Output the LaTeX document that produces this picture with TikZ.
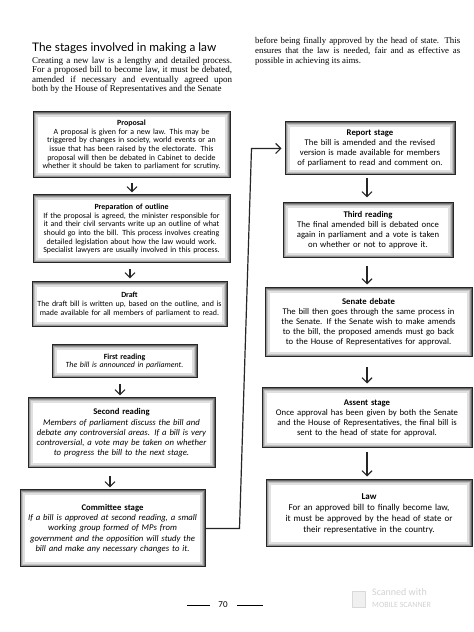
\documentclass[tikz,border=0pt]{standalone}
\usepackage{fontspec}
\setmainfont{Carlito}
\newfontfamily\serifpara{Liberation Serif}
\newfontfamily\titlefont{Lato}
\usetikzlibrary{arrows.meta}
\begin{document}
\begin{tikzpicture}[x=1pt,y=1pt,
  stage/.style={rectangle, draw=black!85, line width=1pt, fill=white, inner sep=0pt, align=center,
    path picture={
      \foreach \w/\c in {10/12,6.5/24,4/40,2/60}{
        \draw[black!\c,line width=\w pt] (path picture bounding box.south west) rectangle (path picture bounding box.north east);}
    }},
  txtsmall/.style={font=\fontsize{7.9}{8.7}\selectfont},
  txtmid/.style={font=\fontsize{8.7}{10.2}\selectfont},
  txtbig/.style={font=\fontsize{8.7}{10}\selectfont},
  arr/.style={-{Straight Barb[length=5pt,width=10pt]}, line width=1.15pt, black!85},
  conn/.style={-{Straight Barb[length=5pt,width=10pt]}, line width=1.2pt, black!85},
  wmark/.style={gray!35}
]
\useasboundingbox (0,0) rectangle (474,632);
\fill[white] (0,0) rectangle (474,632);

% heading texts
\node[anchor=west, inner sep=0pt, font=\titlefont\fontsize{11.8}{13}\selectfont] (title) at (32,584) {The stages involved in making a law};
\node[anchor=north west, inner sep=0pt, text width=200pt, align=justify, font=\serifpara\fontsize{9}{9.4}\selectfont] (intro) at (32,575)
 {\parfillskip=0pt Creating a new law is a lengthy and detailed process.\linebreak
 For a proposed bill to become law, it must be debated,\linebreak
 amended if necessary and eventually agreed upon\linebreak
 both by the House of Representatives and the Senate};
\node[anchor=north west, inner sep=0pt, text width=205pt, align=justify, font=\serifpara\fontsize{8.8}{10}\selectfont] (intro2) at (255,595)
 {before being finally approved by the head of state. This\linebreak
 ensures that the law is needed, fair and as effective as\linebreak
 possible in achieving its aims.};

% left column
\node[stage, txtsmall, text width=197pt, minimum height=66pt] (proposal) at (131.5,487)
 {{\bfseries Proposal}\\
 A proposal is given for a new law. This may be\\
 triggered by changes in society, world events or an\\
 issue that has been raised by the electorate. This\\
 proposal will then be debated in Cabinet to decide\\
 whether it should be taken to parliament for scrutiny.};
\node[stage, txtsmall, text width=197pt, minimum height=68pt] (prep) at (131.5,403)
 {{\bfseries Preparation of outline}\\
 If the proposal is agreed, the minister responsible for\\
 it and their civil servants write up an outline of what\\
 should go into the bill. This process involves creating\\
 detailed legislation about how the law would work.\\
 Specialist lawyers are usually involved in this process.};
\node[stage, txtsmall, text width=195pt, minimum height=45pt] (draft) at (129.5,327.5)
 {{\bfseries Draft}\\
 The draft bill is written up, based on the outline, and is\\
 made available for all members of parliament to read.};
\node[stage, txtsmall, text width=145pt, minimum height=33pt] (first) at (124.5,270.5)
 {{\bfseries First reading}\\
 \itshape The bill is announced in parliament.};
\node[stage, txtmid, text width=187pt, minimum height=70pt] (second) at (121.5,199)
 {{\bfseries Second reading}\\
 \itshape Members of parliament discuss the bill and\\
 \itshape debate any controversial areas. If a bill is very\\
 \itshape controversial, a vote may be taken on whether\\
 \itshape to progress the bill to the next stage.};
\node[stage, txtmid, text width=185pt, minimum height=77pt] (committee) at (112.5,103.5)
 {{\bfseries Committee stage}\\
 \itshape If a bill is approved at second reading, a small\\
 \itshape working group formed of MPs from\\
 \itshape government and the opposition will study the\\
 \itshape bill and make any necessary changes to it.};

% right column
\node[stage, txtbig, text width=170pt, minimum height=53pt] (report) at (370,483.5)
 {{\bfseries Report stage}\\
 The bill is amended and the revised\\
 version is made available for members\\
 of parliament to read and comment on.};
\node[stage, txtbig, text width=170pt, minimum height=55pt] (third) at (368,401.5)
 {{\bfseries Third reading}\\
 The final amended bill is debated once\\
 again in parliament and a vote is taken\\
 on whether or not to approve it.};
\node[stage, txtbig, text width=207pt, minimum height=69pt] (senate) at (368.5,309.5)
 {{\bfseries Senate debate}\\
 The bill then goes through the same process in\\
 the Senate. If the Senate wish to make amends\\
 to the bill, the proposed amends must go back\\
 to the House of Representatives for approval.};
\node[stage, txtbig, text width=210pt, minimum height=60pt] (assent) at (367,214)
 {{\bfseries Assent stage}\\
 Once approval has been given by both the Senate\\
 and the House of Representatives, the final bill is\\
 sent to the head of state for approval.};
\node[stage, font=\fontsize{9}{11}\selectfont, text width=206pt, minimum height=67pt] (law) at (369,118.5)
 {{\bfseries Law}\\
 For an approved bill to finally become law,\\
 it must be approved by the head of state or\\
 their representative in the country.};

% arrows, left
\draw[arr, shorten <=5pt, shorten >=2pt] ([xshift=0.5pt]proposal.south) -- ([xshift=0.5pt]prep.north);
\draw[arr, shorten <=6pt, shorten >=3pt] ([xshift=-1.5pt]prep.south) -- ([xshift=0.5pt]draft.north);
\draw[arr, shorten <=6pt, shorten >=2pt] ([xshift=-4.5pt]first.south) -- ([xshift=-1.5pt]second.north);
\draw[arr, shorten <=8pt, shorten >=2pt] ([xshift=-11.5pt]second.south) -- ([xshift=-2.5pt]committee.north);
% arrows, right
\draw[arr, shorten <=3pt, shorten >=5pt] ([xshift=-3pt]report.south) -- ([xshift=-1pt]third.north);
\draw[arr, shorten <=8pt, shorten >=3pt] ([xshift=-1pt]third.south) -- ([xshift=-1.5pt]senate.north);
\draw[arr, shorten <=10pt, shorten >=4pt] ([xshift=-1.5pt]senate.south) -- (assent.north);
\draw[arr, shorten <=4pt, shorten >=3pt] (assent.south) -- ([xshift=-2pt]law.north);

% long connector
\path (committee.east) -- ++(34,0) coordinate (cb);
\path (report.west) -- ++(-33,0) coordinate (ct);
\draw[conn, line join=miter, shorten >=3pt] (committee.east) -- (cb) -- (ct) -- (report.west);

% page number
\node[font=\fontsize{9}{10}\selectfont] (pnum) at (223,27) {70};
\draw[line width=0.6pt] (187,27) -- (210,27);
\draw[line width=0.6pt] (237,27) -- (263,27);

% scanner mark
\node[wmark, draw=gray!30, fill=gray!12, minimum width=13pt, minimum height=16pt, inner sep=0pt] (icon) at (359,33) {};
\node[wmark, anchor=west, inner sep=0pt, font=\fontsize{10}{11}\selectfont] (scan1) at (372,40) {Scanned with};
\node[wmark, anchor=west, inner sep=0pt, font=\fontsize{8}{9}\selectfont] (scan2) at (372,27) {MOBILE SCANNER};
\end{tikzpicture}
\end{document}
